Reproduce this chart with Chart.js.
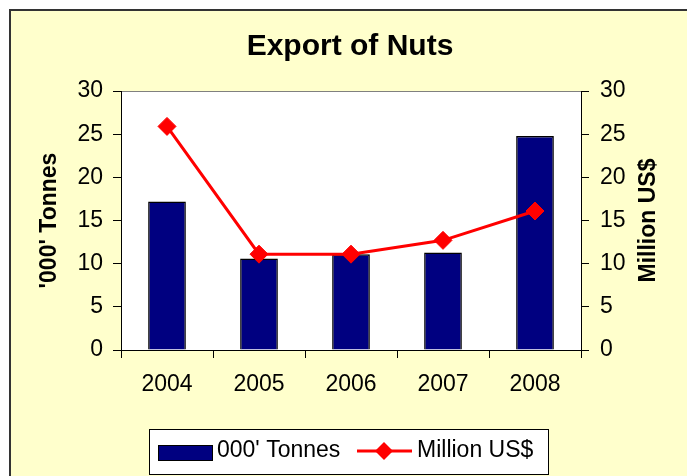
<!DOCTYPE html>
<html>
<head>
<meta charset="utf-8">
<script src="https://cdn.jsdelivr.net/npm/chart.js@4"></script>
<style>
  html, body { margin: 0; padding: 0; background: #fff; }
  canvas { display: block; }
</style>
</head>
<body>
<canvas id="nuts" width="687" height="476"></canvas>
<script>
const years = ['2004', '2005', '2006', '2007', '2008'];
const tonnes = [17.2, 10.6, 11.1, 11.3, 24.8];
const millionUSD = [25.9, 11.1, 11.1, 12.7, 16.1];
const yTicks = [0, 5, 10, 15, 20, 25, 30];

const FONT = '"Liberation Sans", Arial, sans-serif';

// background, frame, plot area, titles and legend
const frame = {
  id: 'frame',
  beforeDraw(chart) {
    const ctx = chart.ctx;
    const a = chart.chartArea;
    ctx.save();
    ctx.fillStyle = '#fff';
    ctx.fillRect(0, 0, chart.width, chart.height);
    ctx.fillStyle = '#FFFFCC';
    ctx.fillRect(9, 10, chart.width, chart.height);
    ctx.strokeStyle = '#333';
    ctx.lineWidth = 2;
    ctx.beginPath();
    ctx.moveTo(10, chart.height + 5);
    ctx.lineTo(10, 10);
    ctx.lineTo(chart.width + 5, 10);
    ctx.stroke();
    ctx.fillStyle = '#fff';
    ctx.fillRect(a.left, a.top, a.right - a.left, a.bottom - a.top);
    ctx.strokeStyle = '#808080';
    ctx.lineWidth = 1;
    ctx.strokeRect(a.left + 0.5, a.top + 0.5, a.right - a.left, a.bottom - a.top);
    ctx.restore();
  },
  afterDraw(chart) {
    const ctx = chart.ctx;
    const a = chart.chartArea;
    const midY = (a.top + a.bottom) / 2;
    ctx.save();
    ctx.fillStyle = '#000';
    ctx.textBaseline = 'middle';
    ctx.textAlign = 'center';
    ctx.font = 'bold 30px ' + FONT;
    ctx.fillText('Export of Nuts', 350, 47);

    ctx.font = 'bold 23px ' + FONT;
    ctx.save();
    ctx.translate(50, midY);
    ctx.rotate(-Math.PI / 2);
    ctx.fillText("'000' Tonnes", 0, 0);
    ctx.restore();
    ctx.save();
    ctx.translate(649, midY);
    ctx.rotate(-Math.PI / 2);
    ctx.fillText('Million US$', 0, 0);
    ctx.restore();

    // legend
    ctx.fillStyle = '#fff';
    ctx.fillRect(149, 429, 399, 45);
    ctx.strokeStyle = '#000';
    ctx.lineWidth = 1;
    ctx.strokeRect(149.5, 429.5, 399, 45);
    ctx.fillStyle = '#000080';
    ctx.fillRect(158, 445, 54, 15);
    ctx.strokeRect(158.5, 445.5, 54, 15);
    ctx.fillStyle = '#000';
    ctx.textAlign = 'left';
    ctx.font = '23px ' + FONT;
    ctx.fillText("000' Tonnes", 217, 451);
    ctx.strokeStyle = '#FF0000';
    ctx.lineWidth = 3;
    ctx.beginPath();
    ctx.moveTo(357, 451);
    ctx.lineTo(412, 451);
    ctx.stroke();
    ctx.fillStyle = '#FF0000';
    ctx.beginPath();
    ctx.moveTo(384, 442);
    ctx.lineTo(393, 451);
    ctx.lineTo(384, 460);
    ctx.lineTo(375, 451);
    ctx.closePath();
    ctx.fill();
    ctx.fillStyle = '#000';
    ctx.fillText('Million US$', 417, 451);
    ctx.restore();
  }
};

const axisGrid = {
  display: true,
  drawOnChartArea: false,
  drawTicks: true,
  tickLength: 8,
  color: '#000'
};

new Chart(document.getElementById('nuts'), {
  data: {
    labels: years,
    datasets: [
      {
        type: 'line',
        label: 'Million US$',
        data: millionUSD,
        yAxisID: 'y1',
        order: 0,
        borderColor: '#FF0000',
        backgroundColor: '#FF0000',
        borderWidth: 3,
        tension: 0,
        pointStyle: 'rectRot',
        pointRadius: 9,
        pointBorderWidth: 1,
        pointBackgroundColor: '#FF0000',
        pointBorderColor: '#FF0000'
      },
      {
        type: 'bar',
        label: "000' Tonnes",
        data: tonnes,
        yAxisID: 'y',
        order: 1,
        backgroundColor: '#000080',
        borderColor: '#000',
        borderWidth: 1.5,
        barPercentage: 0.41,
        categoryPercentage: 1
      }
    ]
  },
  options: {
    responsive: false,
    animation: false,
    layout: { padding: { top: 91, left: 0, right: 0, bottom: 0 } },
    plugins: {
      legend: { display: false },
      title: { display: false },
      tooltip: { enabled: false }
    },
    scales: {
      x: {
        grid: Object.assign({ offset: true }, axisGrid),
        border: { color: '#000', width: 1 },
        ticks: { color: '#000', font: { family: FONT, size: 23 }, padding: 13, maxRotation: 0 },
        afterFit(s) { s.height = 126; }
      },
      y: {
        position: 'left',
        min: 0,
        max: 30,
        afterBuildTicks(s) { s.ticks = yTicks.map(v => ({ value: v })); },
        grid: axisGrid,
        border: { color: '#000', width: 1 },
        ticks: { color: '#000', font: { family: FONT, size: 23 }, padding: 10 },
        afterFit(s) { s.width = 121; }
      },
      y1: {
        position: 'right',
        min: 0,
        max: 30,
        afterBuildTicks(s) { s.ticks = yTicks.map(v => ({ value: v })); },
        grid: axisGrid,
        border: { color: '#000', width: 1 },
        ticks: { color: '#000', font: { family: FONT, size: 23 }, padding: 11 },
        afterFit(s) { s.width = 106; }
      }
    }
  },
  plugins: [frame]
});
</script>
</body>
</html>
